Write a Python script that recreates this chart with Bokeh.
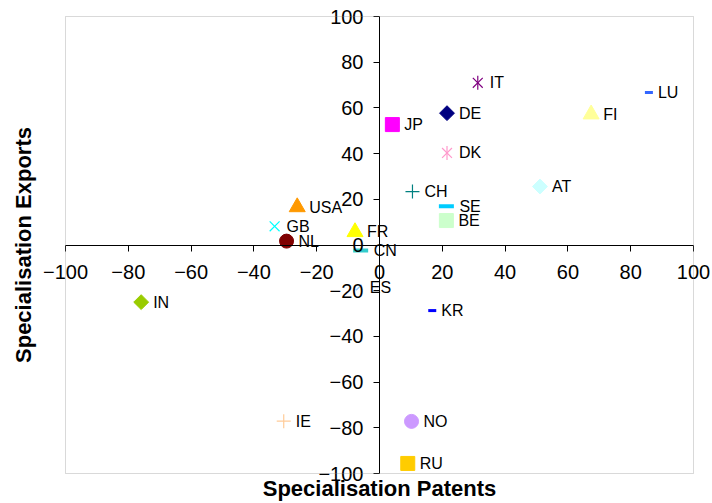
import math

from bokeh.core.properties import value
from bokeh.embed import file_html
from bokeh.models import BoxAnnotation, ColumnDataSource, FixedTicker, LinearAxis, Range1d
from bokeh.plotting import figure
from bokeh.resources import INLINE

# Specialisation indices per country (patents on x, exports on y)
countries = ["IT", "LU", "DE", "FI", "JP", "DK", "CH", "AT", "SE", "BE", "USA",
             "GB", "NL", "FR", "CN", "ES", "IN", "KR", "IE", "NO", "RU"]
patents = [31.3, 85.8, 21.5, 67.4, 4.1, 21.5, 10.5, 51.1, 21.3, 21.3, -26.2,
           -33.4, -29.6, -7.8, -6.0, -6.6, -75.9, 16.8, -30.5, 10.2, 9.0]
exports = [71.0, 66.7, 57.7, 57.2, 52.7, 40.3, 23.4, 25.6, 17.0, 10.7, 16.6,
           8.2, 1.7, 5.7, -2.4, -18.6, -25.0, -28.7, -77.1, -77.2, -95.6]

# Marker kind and colour of each country's series
kinds = ["star", "small_dash", "diamond", "triangle", "square", "star", "plus",
         "diamond", "dash", "square", "triangle", "x", "circle", "triangle",
         "dash", "slash", "diamond", "small_dash", "plus", "circle", "square"]
colors = ["#800080", "#3366FF", "#000080", "#FFFF99", "#FF00FF", "#FF99CC",
          "#008080", "#CCFFFF", "#00CCFF", "#CCFFCC", "#FF9900", "#00FFFF",
          "#800000", "#FFFF00", "#33CCCC", "#99CCFF", "#99CC00", "#0000FF",
          "#FFCC99", "#CC99FF", "#FFCC00"]

x_ticks = [-100, -80, -60, -40, -20, 0, 20, 40, 60, 80, 100]
y_ticks = [-100, -80, -60, -40, -20, 0, 20, 40, 60, 80, 100]
x_title = "Specialisation Patents"
y_title = "Specialisation Exports"

FONT = "Liberation Sans"

# marker kind -> (bokeh marker, size, angle, line width, filled, label gap)
STYLES = {
    "diamond":    ("square", 10.5, math.pi / 4, 1, True, 12),
    "square":     ("square", 14, 0, 1, True, 12),
    "triangle":   ("triangle", 16, 0, 1, True, 12),
    "circle":     ("circle", 14, 0, 1, True, 12),
    "x":          ("x", 14, 0, 1.2, False, 12),
    "star":       ("x", 14, 0, 1.2, False, 12),
    "plus":       ("cross", 14, 0, 1.2, False, 12),
    "dash":       ("dash", 15, 0, 4, False, 13),
    "small_dash": ("dash", 8, 0, 3, False, 9),
    "slash":      ("dash", 8, math.pi / 4, 1.5, False, 11),
}

# The frame fills the whole canvas so that the crossing axes' labels are
# never clipped; the -100..100 plot area sits inside it with margins for
# the axis titles.
W, H = 712, 503
PAD_L, PAD_R, PAD_T, PAD_B = 65, 19, 16, 30
sx = (W - PAD_L - PAD_R) / 200.0
sy = (H - PAD_T - PAD_B) / 200.0

p = figure(width=W, height=H,
           x_range=Range1d(-100 - PAD_L / sx, 100 + PAD_R / sx),
           y_range=Range1d(-100 - PAD_B / sy, 100 + PAD_T / sy),
           x_axis_location=None, y_axis_location=None,
           toolbar_location=None, output_backend="svg",
           min_border=0)
p.grid.grid_line_color = None
p.outline_line_color = None
p.background_fill_color = "white"
p.border_fill_color = "white"

# plot-area border
p.add_layout(BoxAnnotation(left=-100, right=100, bottom=-100, top=100,
                           fill_color=None, line_color="#808080", line_width=1))


def crossing_axis(ticks):
    axis = LinearAxis(fixed_location=0, ticker=FixedTicker(ticks=ticks),
                      bounds=(-100, 100))
    axis.axis_line_color = "black"
    axis.major_tick_line_color = "black"
    axis.major_tick_out = 6
    axis.major_tick_in = 0
    axis.minor_tick_line_color = None
    axis.major_label_text_font = FONT
    axis.major_label_text_font_size = "20px"
    axis.major_label_text_color = "black"
    return axis


xaxis = crossing_axis(x_ticks)
xaxis.major_label_standoff = 14
p.add_layout(xaxis, "below")

yaxis = crossing_axis(y_ticks)
yaxis.major_label_standoff = 10
p.add_layout(yaxis, "left")

# axis titles, just outside the plot area
p.text(x=[0], y=[-100], text=[x_title], y_offset=2,
       text_font=value(FONT), text_font_style="bold", text_font_size="22px",
       text_align="center", text_baseline="top", text_color="black")
p.text(x=[-100], y=[0], text=[y_title], x_offset=-42, angle=math.pi / 2,
       text_font=value(FONT), text_font_style="bold", text_font_size="22px",
       text_align="center", text_baseline="alphabetic", text_color="black")

# markers, one glyph call per marker kind
for kind, (marker, size, angle, lw, filled, _) in STYLES.items():
    idx = [i for i, k in enumerate(kinds) if k == kind]
    if not idx:
        continue
    src = ColumnDataSource(dict(
        x=[patents[i] for i in idx],
        y=[exports[i] for i in idx],
        color=[colors[i] for i in idx],
    ))
    p.scatter("x", "y", source=src, marker=marker, size=size, angle=angle,
              line_color="color", line_width=lw,
              fill_color="color" if filled else None)
    if kind == "star":
        p.scatter("x", "y", source=src, marker="dash", size=size,
                  angle=math.pi / 2, line_color="color", line_width=lw)

# country labels to the right of each marker
labels = ColumnDataSource(dict(
    x=patents, y=exports, name=countries,
    dx=[STYLES[k][5] for k in kinds],
))
p.text("x", "y", text="name", source=labels, x_offset="dx",
       text_font=value(FONT), text_font_size="16px",
       text_align="left", text_baseline="middle", text_color="black")

open("out.html", "w").write(file_html(p, INLINE))
